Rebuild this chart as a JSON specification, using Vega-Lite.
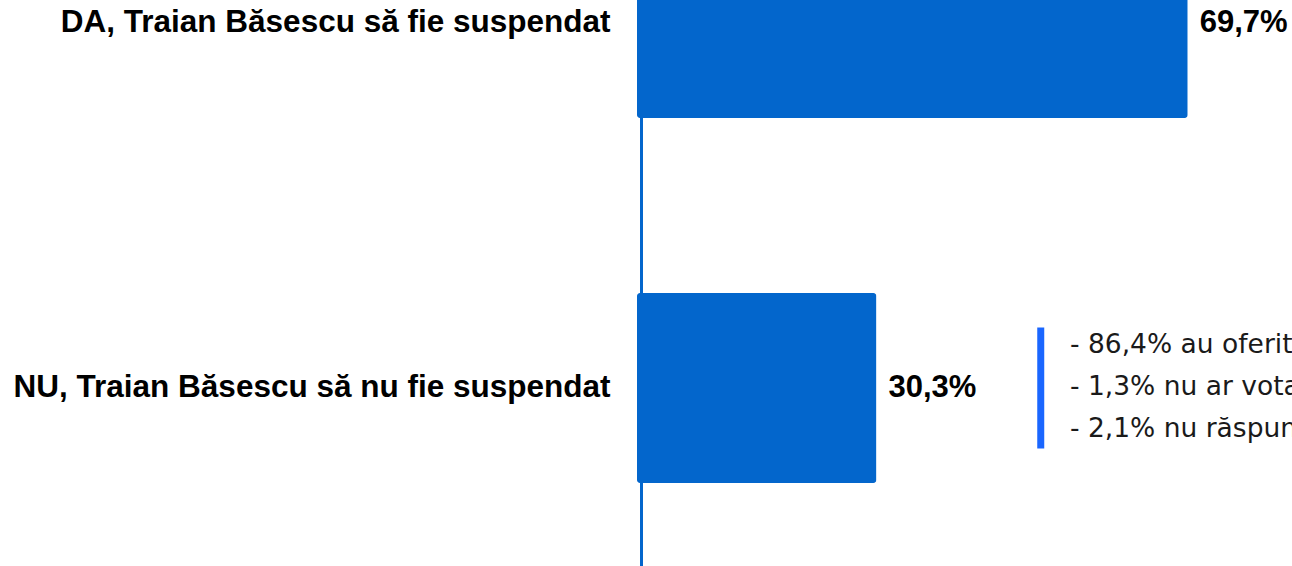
{
  "$schema": "https://vega.github.io/schema/vega-lite/v6.json",
  "autosize": {"type": "none"},
  "padding": {"top": -72, "left": 637, "right": 0, "bottom": 0},
  "width": 655,
  "height": 638,
  "background": "white",
  "config": {"view": {"stroke": null}, "font": "Liberation Sans"},
  "layer": [
    {
      "data": {"values": [
        {"raspuns": "DA, Traian Băsescu să fie suspendat", "procent": 69.7, "eticheta": "69,7%"},
        {"raspuns": "NU, Traian Băsescu să nu fie suspendat", "procent": 30.3, "eticheta": "30,3%"}
      ]},
      "layer": [
        {
          "mark": {"type": "bar", "color": "#0366cc", "cornerRadius": 3},
          "encoding": {
            "y": {"field": "raspuns", "type": "nominal", "sort": null,
              "scale": {"paddingInner": 0.4795, "paddingOuter": 0.1137, "align": 0},
              "axis": {"title": null, "ticks": false, "offset": -4, "domainColor": "#0366cc", "domainWidth": 3,
                "labelPadding": 31, "labelFontSize": 31.5, "labelFontWeight": "bold", "labelColor": "#000000",
                "labelFont": "Liberation Sans", "labelLimit": 700}},
            "x": {"field": "procent", "type": "quantitative", "scale": {"domain": [0, 82.9], "nice": false}, "axis": null}
          }
        },
        {
          "mark": {"type": "text", "align": "left", "baseline": "middle", "dx": 12, "fontSize": 31, "fontWeight": "bold", "color": "#000000"},
          "encoding": {
            "y": {"field": "raspuns", "type": "nominal", "sort": null},
            "x": {"field": "procent", "type": "quantitative"},
            "text": {"field": "eticheta"}
          }
        }
      ]
    },
    {
      "data": {"values": [
        {"raspuns": "NU, Traian Băsescu să nu fie suspendat", "nota": "- 86,4% au oferit un răspuns valid\n- 1,3% nu ar vota\n- 2,1% nu răspund"}
      ]},
      "layer": [
        {
          "mark": {"type": "tick", "orient": "vertical", "color": "#1a66ff", "opacity": 1, "size": 121, "thickness": 7},
          "encoding": {
            "y": {"field": "raspuns", "type": "nominal", "sort": null},
            "x": {"datum": 51.1, "type": "quantitative"}
          }
        },
        {
          "mark": {"type": "text", "align": "left", "baseline": "middle", "dy": -43, "fontSize": 26.5, "lineHeight": 42, "lineBreak": "\n", "color": "#1a1a1a", "font": "DejaVu Sans"},
          "encoding": {
            "y": {"field": "raspuns", "type": "nominal", "sort": null},
            "x": {"datum": 54.8, "type": "quantitative"},
            "text": {"field": "nota"}
          }
        }
      ]
    }
  ]
}
